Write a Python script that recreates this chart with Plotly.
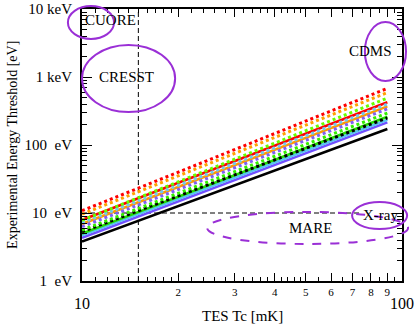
import plotly.graph_objects as go

# TES critical temperature [mK] at both ends of every line
tc = [10, 90]

# threshold [eV] at Tc = 10 mK and 90 mK
red_dot = [10.8, 680]
orange_dot = [9.6, 590]
green_dot = [7.8, 490]
red_solid = [7.9, 425]
sky_dot = [7.2, 400]
orange_solid = [6.9, 370]
purple_dot = [6.3, 340]
green_dot2 = [5.6, 295]
green_solid = [5.0, 260]
black_dot = [5.3, 250]
sky_solid = [4.7, 235]
violet_solid = [4.3, 215]
black_solid = [3.8, 172]

# reference lines
tc_ref = [15, 15]
e_ref_v = [1, 10000]
tc_ref_h = [10, 75]
e_ref_h = [10, 10]

SERIF = "Liberation Serif, Times New Roman, serif"

series = [
    (black_solid, "black", "solid", 2.5),
    (violet_solid, "#7050ff", "solid", 2.5),
    (sky_solid, "#58c4f0", "solid", 2.5),
    (green_solid, "#22dd00", "solid", 2.5),
    (orange_solid, "#ff9a00", "solid", 2.5),
    (red_solid, "#ff0000", "solid", 2.5),
    (black_dot, "black", "dot", 3),
    (green_dot2, "#33ee00", "dot", 3),
    (purple_dot, "#8060f0", "dot", 3),
    (sky_dot, "#70c8f0", "dot", 3),
    (green_dot, "#66ff00", "dot", 3),
    (orange_dot, "#ffa000", "dot", 3),
    (red_dot, "#ff0000", "dot", 3),
]

fig = go.Figure()

fig.add_trace(go.Scatter(x=tc_ref, y=e_ref_v, mode="lines",
                         line=dict(color="black", width=1, dash="5px,3px")))
fig.add_trace(go.Scatter(x=tc_ref_h, y=e_ref_h, mode="lines",
                         line=dict(color="black", width=1, dash="5px,3px")))

for vals, col, dash, w in series:
    fig.add_trace(go.Scatter(x=tc, y=vals, mode="lines",
                             line=dict(color=col, width=w, dash=dash)))

purple = "#9a2fd6"
# circles around the experiments (paper coords)
ellipses = [
    (-0.044, 0.890, 0.10, 1.011, "solid"),   # CUORE
    (0.0, 0.621, 0.291, 0.868, "solid"),     # CRESST
    (0.884, 0.735, 1.0125, 0.952, "solid"),  # CDMS
    (0.844, 0.191, 1.016, 0.290, "solid"),   # X-ray
    (0.391, 0.136, 1.019, 0.254, "dash"),    # MARE
]
for x0, y0, x1, y1, d in ellipses:
    fig.add_shape(type="circle", xref="paper", yref="paper",
                  x0=x0, y0=y0, x1=x1, y1=y1,
                  line=dict(color=purple, width=2, dash=d))


def label(txt, x, y, size, angle=0):
    fig.add_annotation(text=txt, x=x, y=y, xref="paper", yref="paper",
                       xanchor="center", yanchor="middle", textangle=angle,
                       showarrow=False,
                       font=dict(family=SERIF, size=size, color="black"))


label("CUORE", 0.0875, 0.96, 15)
label("CRESST", 0.14, 0.75, 15)
label("CDMS", 0.903, 0.846, 15)
label("X-ray", 0.934, 0.243, 15)
label("MARE", 0.7125, 0.195, 15)

# the big decade labels under the x axis
label("10", 0.0, -0.081, 16)
label("100", 1.0, -0.081, 16)

# axis titles
label("TES Tc [mK]", 0.5, -0.129, 15)
label("Experimental Energy Threshold [eV]", -0.219, 0.5, 14, angle=-90)

minor_x = [11, 12, 13, 14, 15, 16, 17, 18, 19, 22, 24, 26, 28,
           32, 34, 36, 38, 42, 44, 46, 48, 55, 65, 75, 85, 95]
minor_y = [m * 10 ** d for d in range(4) for m in range(2, 10)]

fig.update_xaxes(
    type="log", range=[1, 2], automargin=False,
    tickvals=[20, 30, 40, 50, 60, 70, 80, 90],
    ticktext=["2", "3", "4", "5", "6", "7", "8", "9"],
    tickfont=dict(family=SERIF, size=11, color="black"),
    ticks="inside", ticklen=8, tickwidth=1, tickcolor="black",
    minor=dict(tickvals=minor_x, ticks="inside", ticklen=4, tickcolor="black"),
    showline=True, linecolor="black", linewidth=2, mirror="allticks",
    showgrid=False, zeroline=False,
)
fig.update_yaxes(
    type="log", range=[0, 4], automargin=False,
    tickvals=[1, 10, 100, 1000, 10000],
    ticktext=["1\u00a0\u00a0eV", "10\u00a0\u00a0eV", "100\u00a0\u00a0eV",
              "1 keV", "10 keV"],
    tickfont=dict(family=SERIF, size=15, color="black"),
    ticklabelstandoff=5, ticklabeloverflow="allow",
    ticks="inside", ticklen=10, tickwidth=1, tickcolor="black",
    minor=dict(tickvals=minor_y, ticks="inside", ticklen=5, tickcolor="black"),
    showline=True, linecolor="black", linewidth=2, mirror="allticks",
    showgrid=False, zeroline=False,
)

fig.update_layout(
    width=415, height=326,
    margin=dict(l=82, r=13, t=9, b=45, autoexpand=False),
    showlegend=False,
    plot_bgcolor="white", paper_bgcolor="white",
    font=dict(family=SERIF, color="black"),
)

# drop the page's default 8px body margin so the figure sits at the corner
fig.write_html("out.html", config={"displayModeBar": False},
               post_script="document.body.style.margin = '0';")
